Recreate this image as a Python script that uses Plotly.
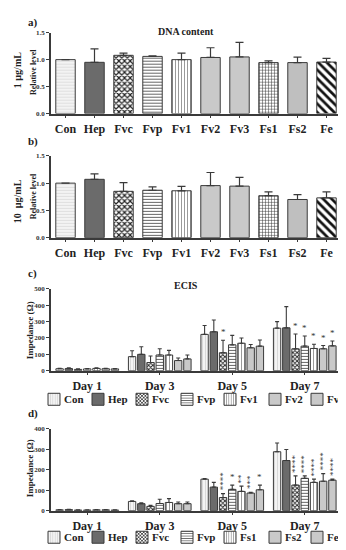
import plotly.graph_objects as go

# ---------------- data ----------------
groups_ab = ["Con", "Hep", "Fvc", "Fvp", "Fv1", "Fv2", "Fv3", "Fs1", "Fs2", "Fe"]
dna_1ug = [1.00, 0.95, 1.08, 1.06, 1.00, 1.04, 1.05, 0.945, 0.945, 0.955]
dna_1ug_err = [0.0, 0.25, 0.04, 0.01, 0.12, 0.18, 0.27, 0.03, 0.10, 0.07]
dna_10ug = [1.00, 1.07, 0.85, 0.87, 0.86, 0.955, 0.945, 0.77, 0.70, 0.73]
dna_10ug_err = [0.0, 0.10, 0.16, 0.06, 0.08, 0.24, 0.16, 0.07, 0.09, 0.11]

days = ["Day 1", "Day 3", "Day 5", "Day 7"]
series_c = ["Con", "Hep", "Fvc", "Fvp", "Fv1", "Fv2", "Fv3"]
ecis_c = [
    [12, 86, 222, 260],
    [13, 100, 238, 262],
    [8, 50, 110, 134],
    [11, 96, 158, 150],
    [14, 96, 168, 136],
    [12, 62, 140, 134],
    [11, 72, 150, 152],
]
ecis_c_err = [
    [3, 36, 54, 40],
    [5, 46, 72, 130],
    [3, 40, 76, 90],
    [2, 38, 58, 62],
    [3, 28, 32, 26],
    [2, 16, 20, 20],
    [2, 24, 38, 30],
]
stars_c = [
    ["", "", "", ""],
    ["", "", "", ""],
    ["", "", "*", "*"],
    ["", "", "", "*"],
    ["", "", "", "*"],
    ["", "", "", "*"],
    ["", "", "", "*"],
]

series_d = ["Con", "Hep", "Fvc", "Fvp", "Fs1", "Fs2", "Fe"]
ecis_d = [
    [4, 45, 154, 288],
    [5, 34, 115, 245],
    [3, 21, 64, 125],
    [3, 35, 104, 158],
    [4, 40, 94, 138],
    [4, 34, 86, 144],
    [3, 34, 102, 149],
]
ecis_d_err = [
    [1, 3, 3, 43],
    [1, 4, 23, 54],
    [1, 5, 19, 45],
    [1, 21, 21, 12],
    [1, 19, 26, 16],
    [1, 8, 4, 37],
    [1, 8, 23, 5],
]
stars_d = [
    ["", "", "", ""],
    ["", "", "", ""],
    ["", "", "****", "****"],
    ["", "", "*", "****"],
    ["", "", "**", "****"],
    ["", "", "***", "****"],
    ["", "", "*", "****"],
]

# ---------------- styles ----------------
FONT = "Liberation Serif"
LINE = "#3a3a3a"
# per-bar style for panels a/b
style_ab = {
    "color": ["#f3f3f3", "#6b6b6b", "#ffffff", "#ffffff", "#ffffff", "#c9c9c9", "#c9c9c9", "#ffffff", "#e2e2e2", "#ffffff"],
    "shape": ["-", "", "x", "-", "|", "", "", "+", "+", "\\"],
    "fg":    ["#dcdcdc", "#6b6b6b", "#222222", "#555555", "#9a9a9a", "#c9c9c9", "#c9c9c9", "#333333", "#8a8a8a", "#111111"],
    "size":  [3, 8, 4, 3, 3, 8, 8, 3, 2, 6],
    "sol":   [0.3, 0.3, 0.5, 0.3, 0.35, 0.3, 0.3, 0.3, 0.4, 0.45],
}
# per-series style for panels c/d (same by position)
style_cd = {
    "color": ["#f3f3f3", "#6b6b6b", "#ffffff", "#ffffff", "#ffffff", "#c9c9c9", "#c9c9c9"],
    "shape": ["|", "", "x", "-", "|", "", ""],
    "fg":    ["#d5d5d5", "#6b6b6b", "#222222", "#555555", "#9a9a9a", "#c9c9c9", "#c9c9c9"],
    "size":  [3, 8, 3, 3, 3, 8, 8],
    "sol":   [0.3, 0.3, 0.5, 0.3, 0.35, 0.3, 0.3],
}
legend_swatch_center_px = [46, 90, 134, 179, 222, 267, 309]

H = 550.0
W = 346.0
XDOM = [43 / W, 333 / W]
def ydom(top_px, bot_px):
    return [1 - bot_px / H, 1 - top_px / H]

DOM_A = ydom(21, 103)
DOM_B = ydom(146, 229)
DOM_C = ydom(281, 364)
DOM_D = ydom(423, 506)

BARGAP = 0.11
BARGROUPGAP = 0.2

fig = go.Figure()
annotations = []

def txt(text, xpx, ypx, size, angle=0, xanchor="center", weight="bold"):
    annotations.append(dict(
        text=text, x=xpx / W, y=1 - ypx / H, xref="paper", yref="paper",
        showarrow=False, textangle=angle, xanchor=xanchor, yanchor="middle",
        font=dict(family=FONT, size=size, color="#222", weight=weight),
    ))

def pattern(shape, fg, bg, size, sol):
    return dict(shape=shape, fgcolor=fg, bgcolor=bg, size=size, solidity=sol, fillmode="replace")

def add_ab(vals, errs, xa, ya):
    for k, g in enumerate(groups_ab):
        fig.add_trace(go.Bar(
            x=[g], y=[vals[k]], xaxis=xa, yaxis=ya, width=0.67, showlegend=False,
            offsetgroup="dna" + xa, name=g,
            marker=dict(
                color=style_ab["color"][k],
                line=dict(color=LINE, width=1),
                pattern=pattern(style_ab["shape"][k], style_ab["fg"][k], style_ab["color"][k],
                                style_ab["size"][k], style_ab["sol"][k]),
            ),
            error_y=dict(type="data", array=[errs[k]], arrayminus=[0],
                         symmetric=False, color=LINE, thickness=1.2, width=4),
        ))

add_ab(dna_1ug, dna_1ug_err, "x", "y")
add_ab(dna_10ug, dna_10ug_err, "x2", "y2")

layout_legends = {}

def add_cd(names, vals, errs, xa, ya, legend_base, legend_y_px):
    for i, name in enumerate(names):
        lg = "legend" if legend_base + i == 1 else "legend%d" % (legend_base + i)
        # legend swatch drawn by plotly; its label is placed as text right next to it
        fig.add_trace(go.Bar(
            x=days, y=vals[i], name="", xaxis=xa, yaxis=ya, legend=lg,
            hovertemplate=name + ": %{y}<extra></extra>",
            marker=dict(
                color=style_cd["color"][i],
                line=dict(color=LINE, width=1),
                pattern=pattern(style_cd["shape"][i], style_cd["fg"][i], style_cd["color"][i],
                                style_cd["size"][i], style_cd["sol"][i]),
            ),
            error_y=dict(type="data", array=errs[i], arrayminus=[0] * 4,
                         symmetric=False, color=LINE, thickness=1.1, width=2),
        ))
        cx = legend_swatch_center_px[i]
        layout_legends[lg] = dict(
            x=(cx - 20) / W, y=1 - legend_y_px / H,
            xanchor="left", yanchor="middle", orientation="h",
            itemwidth=30, font=dict(family=FONT, size=11), bgcolor="rgba(0,0,0,0)",
            itemclick=False, itemdoubleclick=False,
        )
        txt(name, cx + 8, legend_y_px, 11, xanchor="left")

add_cd(series_c, ecis_c, ecis_c_err, "x3", "y3", 1, 393)
add_cd(series_d, ecis_d, ecis_d_err, "x4", "y4", 8, 533)

# star annotations placed from data using bar group geometry
axis_px = (XDOM[1] - XDOM[0]) * W
cat_px = axis_px / len(days)
slot_px = cat_px * (1 - BARGAP) / 7
def add_stars(stars, vals, errs, xa, ya):
    for i in range(7):
        for j, d in enumerate(days):
            s = stars[i][j]
            if not s:
                continue
            annotations.append(dict(
                x=d, y=vals[i][j] + errs[i][j], xref=xa, yref=ya,
                xshift=(i - 3) * slot_px, yshift=1,
                text=s, showarrow=False, textangle=-90 if len(s) > 1 else 0,
                xanchor="center", yanchor="bottom",
                font=dict(family=FONT, size=9, color="#333"),
            ))

add_stars(stars_c, ecis_c, ecis_c_err, "x3", "y3")
add_stars(stars_d, ecis_d, ecis_d_err, "x4", "y4")

txt("a)", 18, 11, 11, xanchor="left")
txt("b)", 18, 131, 11, xanchor="left")
txt("c)", 18, 265, 11, xanchor="left")
txt("d)", 18, 407, 11, xanchor="left")
txt("DNA content", 178, 20, 10)
txt("ECIS", 178, 278, 10)
txt("1 µg/mL", 9, 59, 10, -90)
txt("Relative level", 25, 61, 8, -90)
txt("10  µg/mL", 9, 192, 10, -90)
txt("Relative level", 25, 187, 8, -90)
txt("Impedance (Ω)", 22, 323, 9, -90)
txt("Impedance (Ω)", 22, 463, 9, -90)

def xax(anchor, size):
    return dict(domain=XDOM, anchor=anchor, showline=True, linecolor=LINE, linewidth=1.5,
                ticks="outside", ticklen=3, tickcolor=LINE, showgrid=False, zeroline=False,
                tickfont=dict(family=FONT, size=size, color="#222", weight="bold"),
                fixedrange=True)

def yax(anchor, dom, rng, dtick, fmt):
    return dict(domain=dom, anchor=anchor, range=rng, dtick=dtick, tickformat=fmt,
                showline=True, linecolor=LINE, linewidth=1.5, ticks="outside", ticklen=3,
                tickcolor=LINE, showgrid=False, zeroline=False,
                tickfont=dict(family=FONT, size=7, color="#333", weight="bold"),
                fixedrange=True)

fig.update_layout(
    width=346, height=550,
    margin=dict(l=0, r=0, t=0, b=0),
    paper_bgcolor="white", plot_bgcolor="white",
    barmode="group", bargap=BARGAP, bargroupgap=BARGROUPGAP,
    xaxis=xax("y", 12), yaxis=yax("x", DOM_A, [0, 1.5], 0.5, ".1f"),
    xaxis2=xax("y2", 12), yaxis2=yax("x2", DOM_B, [0, 1.5], 0.5, ".1f"),
    xaxis3=xax("y3", 12), yaxis3=yax("x3", DOM_C, [0, 500], 100, "d"),
    xaxis4=xax("y4", 12), yaxis4=yax("x4", DOM_D, [0, 400], 100, "d"),
    annotations=annotations,
    showlegend=True,
    **layout_legends,
)

fig.write_html("out.html")
